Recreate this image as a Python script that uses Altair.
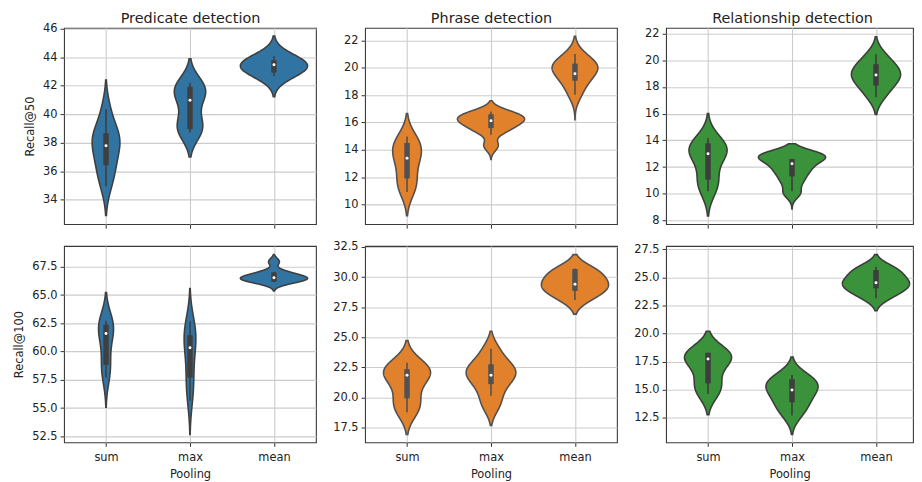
import json
import altair as alt
import pandas as pd

POOLS = ["sum", "max", "mean"]
TASKS = ["Predicate detection", "Phrase detection", "Relationship detection"]
METRICS = ["Recall@50", "Recall@100"]
FILLS = ["#3274a1", "#e1812c", "#3a923a"]
GRAYS = ["#3f3f3f", "#515151", "#3d3d3d"]

# ---- samples behind each violin (order: sum, max, mean) ----
pred50_sum = [34.95, 36.0, 36.42, 37.4, 37.79, 38.2, 38.67, 38.9, 40.35]
pred50_max = [38.72, 38.9, 39.1, 39.8, 40.98, 41.4, 41.7, 41.93, 42.2]
pred50_mean = [42.67, 42.9, 43.1, 43.3, 43.45, 43.5, 43.65, 43.8, 44.09]

phr50_sum = [10.92, 11.5, 11.91, 12.9, 13.39, 13.8, 14.2, 14.5, 14.98]
phr50_max = [14.3, 15.3, 15.6, 15.9, 16.1, 16.25, 16.4, 16.6, 16.8]
phr50_mean = [18.0, 18.8, 19.2, 19.6, 19.9, 20.1, 20.25, 20.45, 21.03]

rel50_sum = [10.2, 10.9, 11.2, 12.6, 13.0, 13.25, 13.4, 13.6, 14.15]
rel50_max = [10.05, 10.9, 11.5, 11.9, 12.3, 12.6, 12.8, 12.95, 13.05]
rel50_mean = [17.23, 17.9, 18.3, 18.7, 18.89, 19.1, 19.5, 19.8, 20.44]

pred100_sum = [57.7, 58.5, 59.0, 60.5, 61.6, 62.0, 62.3, 62.5, 62.73]
pred100_max = [55.66, 57.0, 57.7, 59.3, 60.34, 61.0, 61.45, 62.0, 62.68]
pred100_mean = [66.05, 66.2, 66.35, 66.45, 66.5, 66.55, 66.65, 66.9, 67.05, 67.95]

phr100_sum = [18.76, 19.3, 19.9, 21.0, 21.8, 22.0, 22.2, 22.4, 22.88]
phr100_max = [19.2, 20.14, 21.0, 21.6, 21.84, 22.2, 22.6, 23.0, 24.04]
phr100_mean = [28.1, 28.6, 28.9, 29.2, 29.4, 29.7, 30.1, 30.5, 30.71]

rel100_sum = [14.62, 15.2, 15.6, 16.8, 17.7, 17.9, 18.1, 18.2, 18.29]
rel100_max = [12.71, 13.5, 13.9, 14.6, 15.0, 15.3, 15.6, 15.9, 16.32]
rel100_mean = [23.15, 23.7, 24.0, 24.3, 24.53, 24.8, 25.2, 25.6, 25.94]

samples = [
    [pred50_sum, pred50_max, pred50_mean],
    [phr50_sum, phr50_max, phr50_mean],
    [rel50_sum, rel50_max, rel50_mean],
    [pred100_sum, pred100_max, pred100_mean],
    [phr100_sum, phr100_max, phr100_mean],
    [rel100_sum, rel100_max, rel100_mean],
]

# kernel bandwidth and violin tip extents per violin
bandwidth = [[1.0, 0.85, 0.65], [0.85, 0.38, 0.62], [0.9, 0.4, 0.65],
             [1.25, 1.45, 0.3], [0.92, 0.75, 0.62], [0.95, 0.8, 0.55]]
tip_lo = [[32.9, 37.0, 41.23], [9.18, 13.3, 16.2], [8.35, 8.86, 15.93],
          [55.07, 52.68, 65.37], [16.92, 17.66, 26.92], [12.79, 11.03, 22.03]]
tip_hi = [[42.4, 43.9, 45.49], [16.68, 17.6, 22.32], [16.0, 13.75, 21.75],
          [65.25, 65.6, 68.58], [24.73, 25.5, 31.87], [20.21, 17.91, 27.03]]

# inner box statistics
box_q1 = [[36.42, 38.95, 42.93], [11.91, 15.59, 19.05], [11.06, 11.3, 18.1],
          [58.82, 57.7, 66.18], [19.92, 21.1, 28.85], [15.56, 13.88, 24.03]]
box_med = [[37.79, 40.98, 43.47], [13.39, 16.13, 19.56], [12.99, 12.25, 18.89],
           [61.59, 60.34, 66.54], [21.84, 21.84, 29.4], [17.74, 14.97, 24.53]]
box_q3 = [[38.67, 41.93, 43.79], [14.5, 16.6, 20.3], [13.78, 12.6, 19.7],
          [62.38, 61.45, 67.0], [22.34, 22.75, 30.66], [18.29, 15.94, 25.65]]
whisk_lo = [[34.95, 38.72, 42.67], [10.92, 15.1, 18.02], [10.2, 10.2, 17.23],
            [57.7, 55.66, 66.13], [18.76, 20.14, 28.1], [14.62, 12.71, 23.15]]
whisk_hi = [[40.35, 42.2, 44.09], [14.98, 16.8, 21.0], [14.15, 12.62, 20.44],
            [62.73, 62.68, 67.06], [22.88, 24.04, 30.71], [18.29, 16.32, 25.94]]

# axes
y_domains = [[32.28, 46.07], [8.57, 22.92], [7.73, 22.42],
             [51.97, 69.34], [16.26, 32.58], [10.32, 27.79]]
y_ticks = [[34, 36, 38, 40, 42, 44, 46], [10, 12, 14, 16, 18, 20, 22],
           [8, 10, 12, 14, 16, 18, 20, 22],
           [52.5, 55.0, 57.5, 60.0, 62.5, 65.0, 67.5],
           [17.5, 20.0, 22.5, 25.0, 27.5, 30.0, 32.5],
           [12.5, 15.0, 17.5, 20.0, 22.5, 25.0, 27.5]]
y_formats = ["d", ".1f"]

# ---- tables ----
rows_v, rows_b = [], []
for p in range(6):
    for k, pool in enumerate(POOLS):
        for val in samples[p][k]:
            rows_v.append({"panel": p, "pool": pool, "v": val, "bw": bandwidth[p][k],
                           "lo": tip_lo[p][k], "hi": tip_hi[p][k]})
        rows_b.append({"panel": p, "pool": pool, "q1": box_q1[p][k], "med": box_med[p][k],
                       "q3": box_q3[p][k], "wlo": whisk_lo[p][k], "whi": whisk_hi[p][k]})
violin_df = pd.DataFrame(rows_v)
box_df = pd.DataFrame(rows_b)

POOL_JS = json.dumps(POOLS)
FULL_W = 254
H = 198


def panel(p):
    row, col = divmod(p, 3)
    w = FULL_W if col < 2 else 249
    xdom = [-0.5, 2.5] if col < 2 else [-0.5, -0.5 + 3 * 249 / FULL_W]
    xscale = alt.Scale(domain=xdom, nice=False, zero=False)
    yscale = alt.Scale(domain=y_domains[p], nice=False, zero=False)
    if row == 0:
        xaxis = alt.Axis(values=[0, 1, 2], labels=False, title=None, grid=True)
    else:
        xaxis = alt.Axis(values=[0, 1, 2], labelExpr=POOL_JS + "[datum.value]",
                         title="Pooling", grid=True, labelPadding=5, titlePadding=6)
    yargs = dict(values=y_ticks[p], format=y_formats[row], grid=True, titlePadding=7.5)
    yargs["title"] = METRICS[row] if col == 0 else None
    yaxis = alt.Axis(**yargs)

    fill, gray = FILLS[col], GRAYS[col]

    violin = (
        alt.Chart(violin_df)
        .transform_filter(alt.datum.panel == p)
        .transform_calculate(z="(datum.v - datum.lo) / datum.bw")
        .transform_density("z", groupby=["pool", "bw", "lo", "hi"], bandwidth=1,
                           extent=[0, 13], steps=520, as_=["z", "d"])
        .transform_calculate(val="datum.lo + datum.z * datum.bw", pdf="datum.d / datum.bw")
        .transform_filter("datum.val <= datum.hi")
        .transform_joinaggregate(maxpdf="max(pdf)")
        .transform_calculate(idx="indexof(" + POOL_JS + ", datum.pool)")
        .transform_calculate(xl="datum.idx - 0.4 * datum.pdf / datum.maxpdf",
                             xr="datum.idx + 0.4 * datum.pdf / datum.maxpdf")
        .mark_area(orient="horizontal", fill=fill, stroke=gray, strokeWidth=1.6,
                   opacity=1, fillOpacity=1)
        .encode(
            y=alt.Y("val:Q", scale=yscale, axis=yaxis),
            x=alt.X("xl:Q", scale=xscale, axis=xaxis),
            x2="xr:Q",
            detail="pool:N",
        )
    )

    # in the top row each layer keeps its own x axis (the median layer carries the
    # panel title on a top axis); in the bottom row all layers share one x axis
    if row == 0:
        rule_axis = None
        med_axis = alt.Axis(orient="top", title=TASKS[col], labels=False, ticks=False,
                            tickSize=0, minExtent=0, grid=False, domain=False,
                            titleFontSize=14.5, titlePadding=2, titleX=FULL_W / 2)
    else:
        rule_axis = xaxis
        med_axis = xaxis

    bbase = (
        alt.Chart(box_df)
        .transform_filter(alt.datum.panel == p)
        .transform_calculate(idx="indexof(" + POOL_JS + ", datum.pool)")
    )
    whisk = bbase.mark_rule(color=gray, strokeWidth=1.6).encode(
        x=alt.X("idx:Q", scale=xscale, axis=rule_axis),
        y=alt.Y("wlo:Q", scale=yscale, axis=yaxis), y2="whi:Q")
    box = bbase.mark_rule(color=gray, strokeWidth=5.5).encode(
        x=alt.X("idx:Q", scale=xscale, axis=rule_axis),
        y=alt.Y("q1:Q", scale=yscale, axis=yaxis), y2="q3:Q")
    med = bbase.mark_circle(color="white", size=9, opacity=1).encode(
        x=alt.X("idx:Q", scale=xscale, axis=med_axis),
        y=alt.Y("med:Q", scale=yscale, axis=yaxis))

    layer = alt.layer(violin, whisk, box, med).properties(width=w, height=H)
    if row == 0:
        layer = layer.resolve_axis(x="independent")
    return layer


chart = (
    alt.concat(*[panel(p) for p in range(6)], columns=3,
               spacing={"row": 22, "column": 49.5}, bounds="flush", align="each")
    .properties(padding={"left": 4.5, "top": 0, "right": 0, "bottom": 0})
    .configure_view(stroke="#3a3a3a", strokeWidth=1.1)
    .configure_axis(labelFont="DejaVu Sans", titleFont="DejaVu Sans",
                    labelFontSize=11.5, titleFontSize=11.5, labelColor="#222222",
                    titleColor="#222222", titleFontWeight="normal", tickColor="#333333",
                    tickSize=4, labelPadding=3, titlePadding=4, domain=False,
                    gridColor="#cccccc", gridWidth=1.1)
)

chart.save("out.html", embed_options={"renderer": "svg", "actions": False})
